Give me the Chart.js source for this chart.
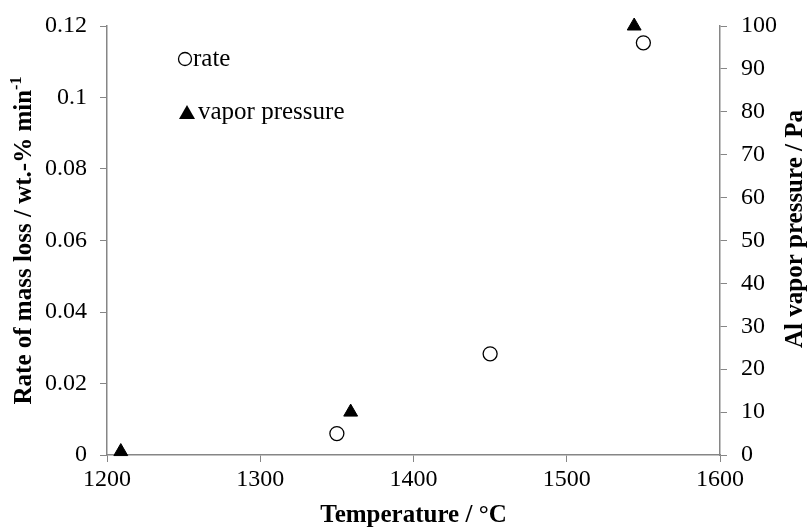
<!DOCTYPE html>
<html>
<head>
<meta charset="utf-8">
<script src="https://cdn.jsdelivr.net/npm/chart.js@4.4.1/dist/chart.umd.min.js"></script>
<style>
  html, body { margin: 0; padding: 0; background: #ffffff; }
  #wrap { width: 812px; height: 531px; }
</style>
</head>
<body>
<div id="wrap"><canvas id="grafico" width="812" height="531"></canvas></div>
<script>
// Datos
const rateTemp = [1350, 1450, 1550];
const rateValues = [0.006, 0.0283, 0.1153];
const vaporTemp = [1209, 1359, 1544];
const vaporValues = [0.8, 10, 100];
const xTicks = [1200, 1300, 1400, 1500, 1600];
const leftTicks = [0, 0.02, 0.04, 0.06, 0.08, 0.1, 0.12];
const rightTicks = [0, 10, 20, 30, 40, 50, 60, 70, 80, 90, 100];

const serif = "'Liberation Serif', 'Times New Roman', serif";
const gris = "#868686";
const tam = 24;
const tamTit = 25;

const rateData = rateTemp.map((t, i) => ({ x: t, y: rateValues[i] }));
const vaporData = vaporTemp.map((t, i) => ({ x: t, y: vaporValues[i] }));

// Leyenda dentro del area y titulos verticales dibujados a mano
const extras = {
  id: "extras",
  afterDraw(chart) {
    const ctx = chart.ctx;
    const area = chart.chartArea;
    ctx.save();
    ctx.fillStyle = "#000";
    ctx.font = "25px " + serif;
    ctx.textBaseline = "middle";
    // leyenda: circulo
    ctx.beginPath();
    ctx.arc(185, 59, 6.5, 0, Math.PI * 2);
    ctx.fillStyle = "#fff";
    ctx.fill();
    ctx.lineWidth = 1.3;
    ctx.strokeStyle = "#000";
    ctx.stroke();
    ctx.fillStyle = "#000";
    ctx.fillText("rate", 193, 59);
    // leyenda: triangulo
    ctx.beginPath();
    ctx.moveTo(187, 105);
    ctx.lineTo(195, 119);
    ctx.lineTo(179, 119);
    ctx.closePath();
    ctx.fill();
    ctx.fillText("vapor pressure", 198, 112);

    const midY = (area.top + area.bottom) / 2;
    // titulo eje izquierdo
    ctx.save();
    ctx.translate(25, midY);
    ctx.rotate(-Math.PI / 2);
    const main = "Rate of mass loss / wt.-% min";
    const sup = "-1";
    ctx.font = "bold " + tamTit + "px " + serif;
    const w1 = ctx.measureText(main).width;
    ctx.font = "bold 16px " + serif;
    const w2 = ctx.measureText(sup).width;
    const start = -(w1 + w2) / 2;
    ctx.textAlign = "left";
    ctx.font = "bold " + tamTit + "px " + serif;
    ctx.fillText(main, start, 0);
    ctx.font = "bold 16px " + serif;
    ctx.fillText(sup, start + w1, -8);
    ctx.restore();

    // titulo eje derecho
    ctx.save();
    ctx.translate(796, 229);
    ctx.rotate(-Math.PI / 2);
    ctx.textAlign = "center";
    ctx.font = "bold " + tamTit + "px " + serif;
    ctx.fillText("Al vapor pressure / Pa", 0, 0);
    ctx.restore();
    ctx.restore();
  }
};

const ctx = document.getElementById("grafico");
new Chart(ctx, {
  type: "scatter",
  data: {
    datasets: [
      {
        label: "rate",
        data: rateData,
        yAxisID: "y",
        pointStyle: "circle",
        pointRadius: 7,
        pointHoverRadius: 7,
        backgroundColor: "#ffffff",
        borderColor: "#000000",
        borderWidth: 1.3,
        clip: false,
      },
      {
        label: "vapor pressure",
        data: vaporData,
        yAxisID: "y2",
        pointStyle: "triangle",
        pointRadius: 8,
        pointHoverRadius: 8,
        backgroundColor: "#000000",
        borderColor: "#000000",
        borderWidth: 1,
        clip: false,
      },
    ],
  },
  options: {
    responsive: false,
    animation: false,
    layout: { padding: { top: 20, left: 0, right: 0, bottom: 0 } },
    plugins: {
      legend: { display: false },
      tooltip: { enabled: false },
    },
    scales: {
      x: {
        type: "linear",
        min: 1200,
        max: 1600,
        afterBuildTicks: (s) => { s.ticks = xTicks.map((v) => ({ value: v })); },
        afterFit: (s) => { s.height = 76; },
        grid: { drawOnChartArea: false, color: gris, tickLength: 7, lineWidth: 1 },
        border: { color: gris, width: 1.5 },
        ticks: {
          color: "#000",
          font: { family: serif, size: tam },
          padding: 3,
          maxRotation: 0,
          callback: (v) => String(v),
        },
        title: {
          display: true,
          text: "Temperature / °C",
          color: "#000",
          font: { family: serif, size: tamTit, weight: "bold" },
          padding: { top: 1, bottom: 0 },
        },
      },
      y: {
        type: "linear",
        position: "left",
        min: 0,
        max: 0.12,
        afterBuildTicks: (s) => { s.ticks = leftTicks.map((v) => ({ value: v })); },
        afterFit: (s) => { s.width = 107; },
        grid: { drawOnChartArea: false, color: gris, tickLength: 7, lineWidth: 1 },
        border: { color: gris, width: 1.5 },
        ticks: {
          color: "#000",
          font: { family: serif, size: tam, lineHeight: 1 },
          padding: 13,
          callback: (v) => String(v),
        },
      },
      y2: {
        type: "linear",
        position: "right",
        min: 0,
        max: 100,
        afterBuildTicks: (s) => { s.ticks = rightTicks.map((v) => ({ value: v })); },
        afterFit: (s) => { s.width = 92; },
        grid: { drawOnChartArea: false, color: gris, tickLength: 7, lineWidth: 1 },
        border: { color: gris, width: 1.5 },
        ticks: { color: "#000", font: { family: serif, size: tam, lineHeight: 1 }, padding: 14 },
      },
    },
  },
  plugins: [extras],
});
</script>
</body>
</html>
